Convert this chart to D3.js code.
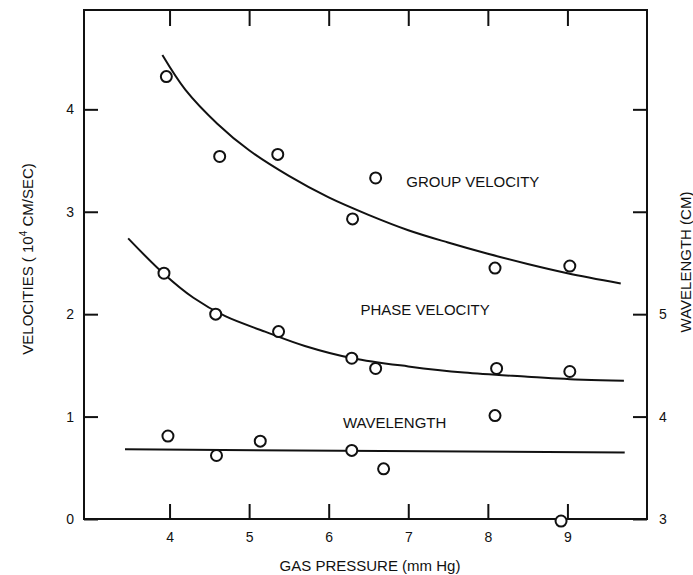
<!DOCTYPE html>
<html>
<head>
<meta charset="utf-8">
<script src="https://cdn.jsdelivr.net/npm/d3@7"></script>
<style>
  body { margin: 0; background: #fff; }
  svg text { font-family: "Liberation Sans", Arial, sans-serif; fill: #111; }
  .axis line { stroke: #111; stroke-width: 2; }
  .axis .domain { display: none; }
  .axis text { font-size: 14px; }
  .fit { fill: none; stroke: #111; stroke-width: 2; }
  .pt { fill: #fff; stroke: #111; stroke-width: 2; }
  .lbl { font-size: 15px; }
</style>
</head>
<body>
<svg id="chart" width="693" height="575"></svg>
<script>
// measured points (gas pressure in mm Hg)
const groupP = [3.96, 4.63, 5.36, 6.30, 6.59, 8.09, 9.03];
const groupV = [4.32, 3.54, 3.56, 2.93, 3.33, 2.45, 2.47];
const phaseP = [3.93, 4.58, 5.37, 6.29, 6.59, 8.11, 9.03];
const phaseV = [2.40, 2.00, 1.83, 1.57, 1.47, 1.47, 1.44];
const waveP = [3.98, 4.59, 5.14, 6.29, 6.69, 8.09, 8.92];
const waveL = [3.81, 3.62, 3.76, 3.67, 3.49, 4.01, 2.98];

// hand-drawn fitted curves
const groupFitP = [3.91, 4.2, 4.6, 5.0, 5.5, 6.0, 6.5, 7.0, 7.5, 8.0, 8.5, 9.0, 9.67];
const groupFitV = [4.53, 4.19, 3.86, 3.60, 3.35, 3.14, 2.97, 2.82, 2.70, 2.59, 2.49, 2.40, 2.30];
const phaseFitP = [3.48, 3.92, 4.3, 4.7, 5.2, 5.7, 6.3, 7.0, 7.7, 8.5, 9.2, 9.71];
const phaseFitV = [2.74, 2.40, 2.16, 1.98, 1.83, 1.69, 1.57, 1.49, 1.43, 1.39, 1.36, 1.35];
const waveFitP = [3.44, 9.72];
const waveFitL = [3.68, 3.65];

// ticks
const xTicks = [4, 5, 6, 7, 8, 9];
const yTicks = [0, 1, 2, 3, 4];
const yRTicks = [3, 4, 5, 6, 7];
const yRLabelled = [3, 4, 5];

const svg = d3.select('#chart');
const frame = { left: 84, right: 647, top: 10, bottom: 519 };

const x = d3.scaleLinear().domain([2.925, 10.0]).range([frame.left, frame.right]);
const y = d3.scaleLinear().domain([0, 4.97]).range([frame.bottom, frame.top]);
const yR = d3.scaleLinear().domain([3, 7.97]).range([frame.bottom, frame.top]);

const zip = (a, b) => a.map((v, i) => [v, b[i]]);

// frame box
svg.append('rect')
    .attr('x', frame.left).attr('y', frame.top)
    .attr('width', frame.right - frame.left)
    .attr('height', frame.bottom - frame.top)
    .attr('fill', 'none').attr('stroke', '#111').attr('stroke-width', 2);

// axes, ticks point inward
svg.append('g').attr('class', 'axis')
    .attr('transform', `translate(0,${frame.bottom})`)
    .call(d3.axisBottom(x).tickValues(xTicks).tickSize(-15).tickPadding(13).tickFormat(d3.format('d')));

svg.append('g').attr('class', 'axis')
    .attr('transform', `translate(0,${frame.top})`)
    .call(d3.axisTop(x).tickValues(xTicks).tickSize(-16).tickFormat(''));

svg.append('g').attr('class', 'axis')
    .attr('transform', `translate(${frame.left},0)`)
    .call(d3.axisLeft(y).tickValues(yTicks).tickSize(-14).tickPadding(10).tickFormat(d3.format('d')));

svg.append('g').attr('class', 'axis')
    .attr('transform', `translate(${frame.right},0)`)
    .call(d3.axisRight(yR).tickValues(yRTicks).tickSize(-14).tickPadding(12)
        .tickFormat(d => yRLabelled.includes(d) ? d : ''));

// fitted curves
const line = (ys) => d3.line().x(d => x(d[0])).y(d => ys(d[1])).curve(d3.curveCatmullRom.alpha(0.5));

svg.append('path').attr('class', 'fit').attr('d', line(y)(zip(groupFitP, groupFitV)));
svg.append('path').attr('class', 'fit').attr('d', line(y)(zip(phaseFitP, phaseFitV)));
svg.append('path').attr('class', 'fit').attr('d', line(yR)(zip(waveFitP, waveFitL)));

// data points
const drawPoints = (data, ys) => {
    svg.append('g').selectAll('circle')
        .data(data)
        .enter()
        .append('circle')
            .attr('class', 'pt')
            .attr('cx', d => x(d[0]))
            .attr('cy', d => ys(d[1]))
            .attr('r', 5.5);
};
drawPoints(zip(groupP, groupV), y);
drawPoints(zip(phaseP, phaseV), y);
drawPoints(zip(waveP, waveL), yR);

// curve labels
svg.append('text').attr('class', 'lbl')
    .attr('x', x(6.975)).attr('y', y(3.29)).attr('dy', '0.36em')
    .text('GROUP VELOCITY');
svg.append('text').attr('class', 'lbl')
    .attr('x', x(6.40)).attr('y', y(2.04)).attr('dy', '0.36em')
    .text('PHASE VELOCITY');
svg.append('text').attr('class', 'lbl')
    .attr('x', x(6.18)).attr('y', yR(3.94)).attr('dy', '0.36em')
    .text('WAVELENGTH');

// axis titles
svg.append('text').attr('class', 'lbl')
    .attr('text-anchor', 'middle')
    .attr('x', 370).attr('y', 571)
    .text('GAS PRESSURE (mm Hg)');

const yt = svg.append('text').attr('class', 'lbl')
    .attr('text-anchor', 'middle')
    .attr('transform', 'translate(33,259) rotate(-90)');
yt.append('tspan').text('VELOCITIES ( 10');
yt.append('tspan').attr('dy', -6).attr('font-size', 10).text('4');
yt.append('tspan').attr('dy', 6).text(' CM/SEC)');

svg.append('text').attr('class', 'lbl')
    .attr('text-anchor', 'middle')
    .attr('transform', 'translate(691,262) rotate(-90)')
    .text('WAVELENGTH (CM)');
</script>
</body>
</html>
